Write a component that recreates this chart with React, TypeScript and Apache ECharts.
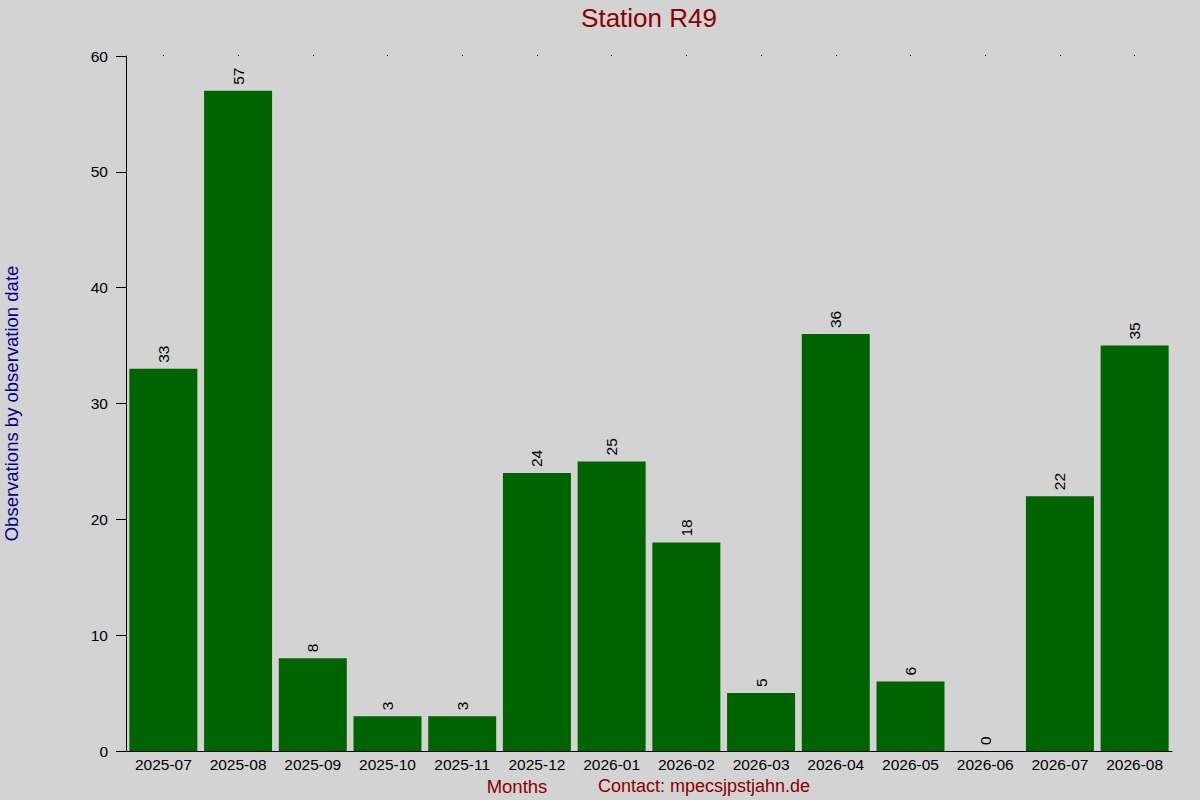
import { useEffect, useRef } from 'react';
import * as echarts from 'echarts';

const months = [
  '2025-07', '2025-08', '2025-09', '2025-10', '2025-11', '2025-12', '2026-01',
  '2026-02', '2026-03', '2026-04', '2026-05', '2026-06', '2026-07', '2026-08',
];
const observations = [33, 57, 8, 3, 3, 24, 25, 18, 5, 36, 6, 0, 22, 35];

const FONT = '"Liberation Sans", Arial, sans-serif';

const App: React.FC = () => {
  const chartRef = useRef<HTMLDivElement>(null);

  useEffect(() => {
    if (!chartRef.current) return;
    const chart = echarts.init(chartRef.current, undefined, { renderer: 'svg' });

    const option: echarts.EChartsOption = {
      animation: false,
      backgroundColor: '#d3d3d3',
      textStyle: { fontFamily: FONT },
      grid: { left: 126, right: 28, top: 56, bottom: 49, outerBoundsMode: 'none' } as any,
      xAxis: [
        {
          type: 'category',
          data: months,
          axisLine: { show: true, lineStyle: { color: '#000', width: 1 } },
          axisTick: { show: false },
          axisLabel: { color: '#000', fontSize: 15.5, margin: 5, interval: 0 },
        },
        {
          // kleine Punkte am oberen Rand
          type: 'category',
          data: months,
          position: 'top',
          axisLine: { show: false },
          axisTick: { show: true, alignWithLabel: true, length: 1, lineStyle: { color: '#000' } },
          axisLabel: { show: false },
        },
      ],
      yAxis: {
        type: 'value',
        min: 0,
        max: 60,
        interval: 10,
        name: 'Observations by observation date',
        nameLocation: 'middle',
        nameGap: 105,
        nameTextStyle: { color: '#00008b', fontSize: 18.5 },
        axisLine: { show: true, lineStyle: { color: '#000', width: 1 } },
        axisTick: { show: true, length: 10, lineStyle: { color: '#000' } },
        axisLabel: { color: '#000', fontSize: 15.5, margin: 18 },
        splitLine: { show: false },
      },
      series: [
        {
          type: 'bar',
          data: observations,
          barCategoryGap: '9%',
          itemStyle: { color: '#006400' },
          label: {
            show: true,
            position: 'top',
            rotate: 90,
            align: 'left',
            verticalAlign: 'middle',
            distance: 6,
            color: '#000',
            fontSize: 15.5,
          },
        },
      ],
      graphic: [
        {
          type: 'text',
          x: 649,
          y: 18,
          style: {
            text: 'Station R49',
            fill: '#8b0000',
            fontSize: 26,
            fontFamily: FONT,
            align: 'center',
            verticalAlign: 'middle',
          },
        },
        {
          type: 'text',
          x: 517,
          y: 786,
          style: {
            text: 'Months',
            fill: '#8b0000',
            fontSize: 18.5,
            fontFamily: FONT,
            align: 'center',
            verticalAlign: 'middle',
          },
        },
        {
          type: 'text',
          x: 704,
          y: 786,
          style: {
            text: 'Contact: mpecsjpstjahn.de',
            fill: '#8b0000',
            fontSize: 18,
            fontFamily: FONT,
            align: 'center',
            verticalAlign: 'middle',
          },
        },
      ],
    };

    chart.setOption(option);

    return () => {
      chart.dispose();
    };
  }, []);

  return (
    <div
      ref={chartRef}
      style={{ position: 'absolute', left: 0, top: 0, width: '1200px', height: '800px' }}
    />
  );
};

export default App;
